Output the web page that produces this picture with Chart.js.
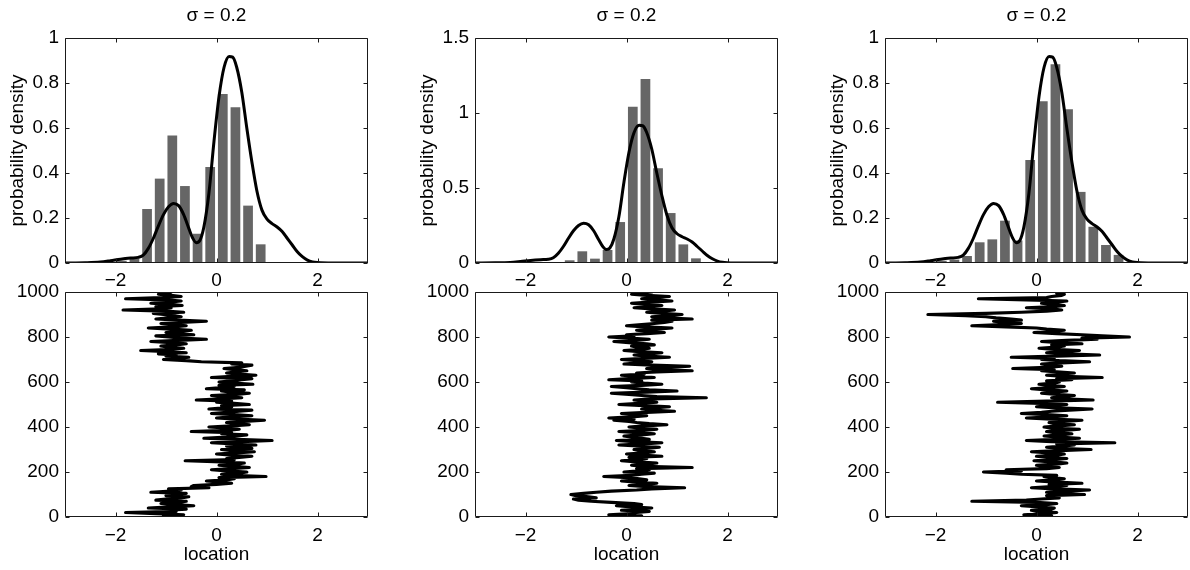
<!DOCTYPE html>
<html>
<head>
<meta charset="utf-8">
<title>Sampler traces</title>
<script src="https://cdn.jsdelivr.net/npm/chart.js@4.4.1/dist/chart.umd.min.js"></script>
<style>
  html, body { margin: 0; padding: 0; background: #fff; }
  #fig { position: relative; width: 1190px; height: 570px; overflow: hidden; background: #fff; }
  #fig canvas { position: absolute; left: 0; top: 0; }
</style>
</head>
<body>
<div id="fig">
  <canvas id="hist1" width="1190" height="570"></canvas>
  <canvas id="hist2" width="1190" height="570"></canvas>
  <canvas id="hist3" width="1190" height="570"></canvas>
  <canvas id="trace1" width="1190" height="570"></canvas>
  <canvas id="trace2" width="1190" height="570"></canvas>
  <canvas id="trace3" width="1190" height="570"></canvas>
</div>
<script>
// values (estimates)
const panelTitle = 'σ = 0.2';

// histogram bins (centres, width 0.25) and heights per panel
const binCenters = [-1.875, -1.625, -1.375, -1.125, -0.875, -0.625, -0.375, -0.125, 0.125, 0.375, 0.625, 0.875, 1.125, 1.375, 1.625];
const hist1 = [0.01, 0.02, 0.24, 0.375, 0.567, 0.342, 0.13, 0.427, 0.751, 0.692, 0.255, 0.083, 0, 0, 0];
const hist2 = [0, 0, 0, 0.018, 0.078, 0.029, 0.087, 0.273, 1.042, 1.227, 0.631, 0.333, 0.124, 0.031, 0];
const hist3 = [0.01, 0.015, 0.031, 0.092, 0.105, 0.188, 0.1, 0.458, 0.719, 0.883, 0.683, 0.316, 0.161, 0.08, 0.036];

// target density curve (same in all three panels)
const densityX = [-3, -2.6, -2.3, -2.1, -1.9, -1.7, -1.55, -1.45, -1.35, -1.25, -1.15, -1.05, -0.95, -0.85, -0.75, -0.65, -0.55, -0.47, -0.4, -0.33, -0.25, -0.15, -0.05, 0.05, 0.15, 0.25, 0.32, 0.4, 0.5, 0.6, 0.7, 0.8, 0.9, 1.0, 1.1, 1.2, 1.3, 1.4, 1.5, 1.6, 1.7, 1.8, 1.9, 2.0, 2.3, 3];
const densityY = [0, 0.001, 0.004, 0.01, 0.017, 0.022, 0.025, 0.035, 0.065, 0.11, 0.165, 0.215, 0.25, 0.265, 0.255, 0.215, 0.155, 0.11, 0.09, 0.1, 0.16, 0.31, 0.54, 0.74, 0.87, 0.918, 0.915, 0.87, 0.76, 0.6, 0.45, 0.32, 0.235, 0.195, 0.175, 0.16, 0.14, 0.11, 0.08, 0.05, 0.028, 0.013, 0.005, 0.002, 0, 0];

// sample index (every 5th iteration) and chain location per panel
const iterations = [
  0, 5, 10, 15, 20, 25, 30, 35, 40, 45, 50, 55, 60, 65, 70, 75, 80, 85, 90, 95,
  100, 105, 110, 115, 120, 125, 130, 135, 140, 145, 150, 155, 160, 165, 170, 175, 180, 185, 190, 195,
  200, 205, 210, 215, 220, 225, 230, 235, 240, 245, 250, 255, 260, 265, 270, 275, 280, 285, 290, 295,
  300, 305, 310, 315, 320, 325, 330, 335, 340, 345, 350, 355, 360, 365, 370, 375, 380, 385, 390, 395,
  400, 405, 410, 415, 420, 425, 430, 435, 440, 445, 450, 455, 460, 465, 470, 475, 480, 485, 490, 495,
  500, 505, 510, 515, 520, 525, 530, 535, 540, 545, 550, 555, 560, 565, 570, 575, 580, 585, 590, 595,
  600, 605, 610, 615, 620, 625, 630, 635, 640, 645, 650, 655, 660, 665, 670, 675, 680, 685, 690, 695,
  700, 705, 710, 715, 720, 725, 730, 735, 740, 745, 750, 755, 760, 765, 770, 775, 780, 785, 790, 795,
  800, 805, 810, 815, 820, 825, 830, 835, 840, 845, 850, 855, 860, 865, 870, 875, 880, 885, 890, 895,
  900, 905, 910, 915, 920, 925, 930, 935, 940, 945, 950, 955, 960, 965, 970, 975, 980, 985, 990, 995,
  1000];

const trace1 = [
  -0.85, -1.05, -0.65, -1.2, -1.8, -0.8, -0.95, -0.6, -1.35, -0.9, -0.45, -0.8, -1.1, -0.75, -0.6, -1.2, -1.0, -0.7, -0.55, -1.0,
  -0.95, -0.6, -1.3, -0.9, -0.7, -0.95, -0.15, -0.5, -0.45, 0.0, 0.3, 0.1, -0.2, 0.2, 0.35, 0.05, 0.98, 0.3, 0.1, 0.45,
  0.6, 0.2, -0.1, 0.3, 0.65, 0.35, 0.05, 0.4, 0.55, 0.1, -0.62, 0.35, 0.2, 0.45, 0.7, 0.3, 0.0, 0.4, 0.75, 0.3,
  0.1, 0.7, 0.5, 0.2, 0.78, 0.35, -0.1, 0.5, 1.1, 0.4, -0.25, 0.2, 0.4, 0.6, 0.1, 0.3, -0.5, 0.2, 0.45, 0.25,
  -0.15, 0.3, 0.65, 0.4, 0.2, 0.55, 0.95, 0.4, 0.0, 0.3, 0.7, 0.35, -0.1, 0.2, 0.45, 0.7, -0.15, 0.15, 0.3, 0.1,
  0.65, 0.35, 0.0, 0.3, -0.4, 0.1, 0.5, 0.2, -0.1, 0.4, 0.65, 0.3, 0.1, 0.55, -0.2, 0.1, 0.35, 0.05, 0.72, 0.35,
  0.05, 0.3, 0.5, 0.7, -0.1, 0.3, 0.78, 0.45, 0.2, 0.4, 0.6, 0.35, 0.15, 0.45, 0.58, 0.7, 0.3, 0.5, -0.3, -0.6,
  -1.05, -0.75, -0.55, -1.0, -0.8, -1.15, -0.6, -0.95, -1.5, -0.85, -0.65, -0.95, -1.1, -0.8, -0.6, -0.9, -1.3, -0.75, -0.2, -0.7,
  -0.95, -1.2, -0.45, -0.75, -1.0, -0.65, -0.5, -0.9, -1.35, -0.85, -0.6, -0.85, -1.1, -0.7, -0.2, -0.75, -1.2, -0.95, -0.7, -0.85,
  -1.05, -1.25, -0.65, -1.0, -1.85, -1.1, -0.9, -1.2, -0.68, -0.9, -1.3, -0.95, -0.7, -1.0, -1.8, -1.1, -0.7, -0.9, -1.15, -0.95,
  -0.9];

const trace2 = [
  0.0, 0.3, -0.35, 0.1, 0.2, 0.45, -0.1, 0.25, 0.5, 0.1, -0.2, 0.3, 0.15, -0.3, -0.7, -0.95, -1.05, -0.6, -0.75, -1.0,
  -1.1, -0.85, -0.6, -0.3, 0.2, 0.5, 1.15, 0.4, 0.05, 0.35, 0.6, 0.2, -0.1, 0.4, 0.25, 0.05, -0.45, 0.1, 0.3, 0.55,
  -0.05, 0.25, 0.45, 0.2, 1.3, 0.35, 0.1, 0.4, 0.6, 0.2, -0.1, 0.25, 0.4, 0.05, 0.7, 0.3, 0.0, 0.35, 0.55, 0.25,
  0.15, 0.4, 0.65, 0.3, -0.15, 0.35, 0.7, 0.15, -0.2, 0.45, 0.3, 0.1, -0.05, 0.3, 0.55, 0.2, -0.15, 0.35, 0.6, 0.3,
  0.05, 0.35, 0.8, 0.45, 0.2, 0.05, -0.25, 0.15, -0.35, 0.1, 0.4, 0.15, -0.1, 0.4, 0.95, 0.5, 0.3, 0.55, 0.85, 0.35,
  -0.15, 0.25, 0.6, 0.35, 0.15, 0.5, 1.58, 0.6, 0.3, 0.05, -0.3, 0.4, 1.0, 0.45, 0.2, 0.0, -0.3, 0.3, 0.7, 0.35,
  0.1, 0.3, -0.35, 0.05, 0.55, 0.25, -0.1, 0.35, 0.2, 0.6, 1.3, 0.6, 0.4, 0.8, 1.25, 0.5, -0.05, 0.25, 0.5, 0.2,
  -0.1, 0.35, 0.85, 0.4, 0.15, 0.45, 0.7, 0.25, -0.05, 0.3, 0.45, 0.2, 0.1, 0.55, 0.4, 0.05, -0.25, 0.2, 0.45, 0.05,
  -0.35, 0.15, 0.0, 0.4, 0.75, 0.45, 0.2, 0.6, 0.9, 0.35, 0.0, 0.3, 0.55, 0.75, 0.9, 0.5, 1.3, 0.75, 0.5, 0.85,
  1.1, 0.7, 0.4, 0.7, 0.95, 0.5, 0.15, 0.45, 0.7, 0.35, 0.1, 0.45, 0.9, 0.6, 0.3, 0.55, 0.85, 0.4, 0.1, 0.3,
  0.5];

const trace3 = [
  0.1, 0.3, -0.25, 0.15, 0.4, 0.0, -0.1, 0.3, 0.35, 0.05, -0.3, 0.2, 0.4, 0.0, -1.28, -0.2, 0.1, 0.45, 0.4, 0.2,
  0.95, 0.4, 0.2, 0.6, 1.05, 0.35, -0.1, 0.3, 0.6, 0.25, 0.9, 0.4, 0.0, 0.3, 0.55, 0.3, 0.15, 0.4, -0.3, -0.6,
  -1.05, -0.3, -0.6, 0.2, 0.45, 0.15, 0.0, 0.4, 0.6, 0.3, -0.05, 0.35, 0.6, 0.2, 0.0, 0.4, 0.55, 0.25, -0.1, 0.45,
  1.08, 0.45, 0.2, 0.5, 0.75, 0.4, 1.55, 0.3, -0.2, 0.4, 0.85, 0.45, 0.15, 0.5, 0.7, 0.35, 0.2, 0.55, 0.85, 0.3,
  0.15, 0.45, 0.75, 0.35, 0.25, 0.55, 0.9, 0.3, -0.2, 0.3, 0.6, 0.2, -0.3, 0.1, 0.3, 0.65, 1.1, 0.4, 0.0, 0.3,
  0.6, 0.1, -0.77, 0.2, 1.12, 0.55, 0.3, 0.5, 0.75, 0.4, 0.1, 0.35, 0.6, 0.2, -0.1, 0.3, 0.55, 0.25, 0.05, 0.35,
  0.45, 0.2, 0.7, 0.4, 1.3, 0.55, 0.2, 0.45, 0.75, 0.4, 0.1, 0.35, -0.47, 0.2, 0.5, 0.25, 0.1, 0.5, 1.05, 0.45,
  0.1, 0.35, -0.5, 0.4, 1.25, 0.6, 0.2, 0.5, 0.85, 0.35, 0.05, 0.4, 0.55, 0.3, 0.9, 0.45, 0.1, 0.6, 1.2, 0.9,
  1.84, 1.3, 0.9, 0.4, -0.05, 0.3, 0.55, 0.2, 0.0, -0.6, -1.28, -0.7, -0.3, -0.6, -0.85, -0.3, -0.5, -0.8, -1.0, -1.4,
  -2.15, -1.0, -0.3, 0.2, 0.5, 0.3, -0.2, 0.35, 0.55, 0.3, 0.1, 0.4, 0.6, -0.2, -1.15, 0.2, 0.3, 0.5, 0.55, 0.4,
  0.45];

// tick labels
const xTicks = [-2, 0, 2];
const densityTicks = [0, 0.2, 0.4, 0.6, 0.8, 1];
const densityTicksWide = [0, 0.5, 1, 1.5];
const iterTicks = [0, 200, 400, 600, 800, 1000];

// layout of the 2x3 grid (plot-area edges in px)
const FONT = '"Liberation Sans", Arial, Helvetica, sans-serif';
const FIG_W = 1190, FIG_H = 570;
const cols = [{ left: 65, right: 368 }, { left: 475, right: 778 }, { left: 885, right: 1188 }];
const Y_AXIS_W = 65;

Chart.defaults.font.family = FONT;
Chart.defaults.color = '#000';

// inward tick marks + box, like the original axes
const boxTicks = {
  id: 'boxTicks',
  afterDatasetsDraw(chart) {
    const { ctx, chartArea: a, scales: { x, y } } = chart;
    const L = Math.round(a.left) + 0.5, R = Math.round(a.right) - 0.5;
    const T = Math.round(a.top) + 0.5, B = Math.round(a.bottom) - 0.5;
    ctx.save();
    ctx.strokeStyle = '#1a1a1a';
    ctx.lineWidth = 1;
    ctx.beginPath();
    for (const t of x.ticks) {
      const px = Math.round(x.getPixelForValue(t.value)) + 0.5;
      ctx.moveTo(px, B); ctx.lineTo(px, B - 4);
      ctx.moveTo(px, T); ctx.lineTo(px, T + 4);
    }
    for (const t of y.ticks) {
      const py = Math.round(y.getPixelForValue(t.value)) + 0.5;
      ctx.moveTo(L, py); ctx.lineTo(L + 4, py);
      ctx.moveTo(R, py); ctx.lineTo(R - 4, py);
    }
    ctx.rect(L, T, R - L, B - T);
    ctx.stroke();
    ctx.restore();
  }
};

const fixedTicks = vals => scale => { scale.ticks = vals.map(v => ({ value: v })); };
const minusLabel = v => String(v).replace('-', '\u2212');

function xScale(withTitle) {
  return {
    type: 'linear', min: -3, max: 3, offset: false,
    afterBuildTicks: fixedTicks(xTicks),
    afterFit: s => { s.height = withTitle ? 50 : 30; },
    grid: { display: false, drawTicks: false },
    border: { display: false },
    ticks: { padding: withTitle ? 7 : 6, maxRotation: 0, autoSkip: false, font: { size: 19 }, callback: minusLabel },
    title: { display: withTitle, text: 'location', font: { size: 19 }, padding: { top: 0, bottom: 1 } }
  };
}

function yScale(max, ticks, label) {
  return {
    type: 'linear', min: 0, max: max,
    afterBuildTicks: fixedTicks(ticks),
    afterFit: s => { s.width = Y_AXIS_W; },
    grid: { display: false, drawTicks: false },
    border: { display: false },
    ticks: { padding: 6, autoSkip: false, font: { size: 19 }, callback: minusLabel },
    title: { display: !!label, text: label || '', font: { size: 19 }, padding: { top: 6, bottom: 0 } }
  };
}

function histChart(id, col, heights, yMax, yTicks) {
  new Chart(document.getElementById(id), {
    type: 'bar',
    data: {
      datasets: [
        {
          type: 'line',
          order: 0,
          data: densityX.map((x, i) => ({ x: x, y: densityY[i] })),
          borderColor: '#000',
          borderWidth: 3,
          pointRadius: 0,
          fill: false,
          cubicInterpolationMode: 'monotone'
        },
        {
          type: 'bar',
          order: 1,
          data: binCenters.map((x, i) => ({ x: x, y: heights[i] })),
          backgroundColor: '#666666',
          borderWidth: 0,
          barPercentage: 0.77,
          categoryPercentage: 1
        }
      ]
    },
    options: {
      responsive: false,
      animation: false,
      events: [],
      layout: { padding: { left: col.left - Y_AXIS_W, right: FIG_W - col.right, top: 0, bottom: FIG_H - 263 - 30 } },
      scales: { x: xScale(false), y: yScale(yMax, yTicks, 'probability density') },
      plugins: {
        legend: { display: false },
        tooltip: { enabled: false },
        title: {
          display: true, text: panelTitle, fullSize: false, align: 'center', color: '#000',
          font: { size: 19, weight: 'normal' }, padding: { top: 4, bottom: 11.2 }
        }
      }
    },
    plugins: [boxTicks]
  });
}

function traceChart(id, col, locs) {
  new Chart(document.getElementById(id), {
    type: 'scatter',
    data: {
      datasets: [{
        data: iterations.map((it, i) => ({ x: locs[i], y: it })),
        showLine: true,
        borderColor: '#000',
        borderWidth: 3.2,
        borderJoinStyle: 'round',
        borderCapStyle: 'round',
        pointRadius: 0,
        tension: 0
      }]
    },
    options: {
      responsive: false,
      animation: false,
      events: [],
      layout: { padding: { left: col.left - Y_AXIS_W, right: FIG_W - col.right, top: 292, bottom: FIG_H - 517 - 50 } },
      scales: { x: xScale(true), y: yScale(1000, iterTicks, null) },
      plugins: { legend: { display: false }, tooltip: { enabled: false } }
    },
    plugins: [boxTicks]
  });
}

histChart('hist1', cols[0], hist1, 1, densityTicks);
histChart('hist2', cols[1], hist2, 1.5, densityTicksWide);
histChart('hist3', cols[2], hist3, 1, densityTicks);
traceChart('trace1', cols[0], trace1);
traceChart('trace2', cols[1], trace2);
traceChart('trace3', cols[2], trace3);
</script>
</body>
</html>
